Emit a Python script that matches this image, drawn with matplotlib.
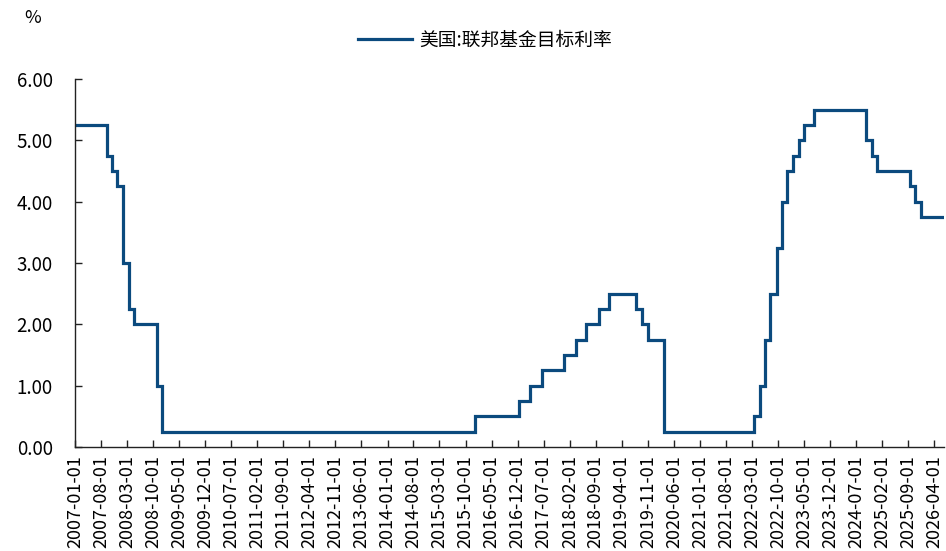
import matplotlib
matplotlib.use('Agg')
import matplotlib.pyplot as plt
import matplotlib.dates as mdates
import pandas as pd

plt.rcParams['font.family'] = ['Noto Sans CJK SC', 'DejaVu Sans']
plt.rcParams['axes.unicode_minus'] = False

# fed funds target rate (upper bound), value in effect from each date on
change_dates = ['2007-01-01', '2007-09-18', '2007-10-31', '2007-12-11', '2008-01-30',
                '2008-03-18', '2008-04-30', '2008-10-29', '2008-12-16', '2015-12-16',
                '2016-12-14', '2017-03-15', '2017-06-14', '2017-12-13', '2018-03-21',
                '2018-06-13', '2018-09-26', '2018-12-19', '2019-07-31', '2019-09-18',
                '2019-10-30', '2020-03-15', '2022-03-16', '2022-05-04', '2022-06-15',
                '2022-07-27', '2022-09-21', '2022-11-02', '2022-12-14', '2023-02-01',
                '2023-03-22', '2023-05-03', '2023-07-26', '2024-09-18', '2024-11-07',
                '2024-12-18', '2025-09-17', '2025-10-29', '2025-12-10', '2026-06-20']
rate_values = [5.25, 4.75, 4.50, 4.25, 3.00,
               2.25, 2.00, 1.00, 0.25, 0.50,
               0.75, 1.00, 1.25, 1.50, 1.75,
               2.00, 2.25, 2.50, 2.25, 2.00,
               1.75, 0.25, 0.50, 1.00, 1.75,
               2.50, 3.25, 4.00, 4.50, 4.75,
               5.00, 5.25, 5.50, 5.00, 4.75,
               4.50, 4.25, 4.00, 3.75, 3.75]
y_ticks = [0, 1, 2, 3, 4, 5, 6]
series_name = '美国:联邦基金目标利率'

dates = pd.to_datetime(change_dates)
x_ticks = pd.date_range('2007-01-01', '2026-04-01', freq='7MS')

fig = plt.figure(figsize=(9.46, 5.51), dpi=100)
ax = fig.add_axes([75 / 946, 1 - 447 / 551, 869 / 946, (447 - 79) / 551])

line_color = '#0B4A7E'
ax.plot(dates, rate_values, drawstyle='steps-post', color=line_color,
        linewidth=2.3, solid_joinstyle='miter', label=series_name)

ax.set_xlim(dates[0], dates[-1])
ax.set_ylim(0, 6)
ax.set_yticks(y_ticks)
ax.yaxis.set_major_formatter(matplotlib.ticker.FormatStrFormatter('%.2f'))
ax.set_xticks(x_ticks)
ax.xaxis.set_major_formatter(mdates.DateFormatter('%Y-%m-%d'))
for lbl in ax.get_xticklabels():
    lbl.set_rotation(90)

for side in ['top', 'right']:
    ax.spines[side].set_visible(False)
for side in ['left', 'bottom']:
    ax.spines[side].set_linewidth(1.0)
    ax.spines[side].set_color('#222222')

ax.tick_params(axis='both', direction='in', length=5, width=1.0,
               labelsize=13, colors='#222222', labelcolor='black')
ax.tick_params(axis='y', pad=16, labelsize=13.5)
ax.tick_params(axis='x', pad=6)

fig.text(33 / 946, 1 - 18 / 551, '%', fontsize=13, ha='center', va='center')
fig.legend(loc='center', bbox_to_anchor=(485 / 946, 1 - 40 / 551), frameon=False,
           fontsize=13.5, handlelength=2.9, handletextpad=0.4)

fig.savefig('out.png', dpi=100)
